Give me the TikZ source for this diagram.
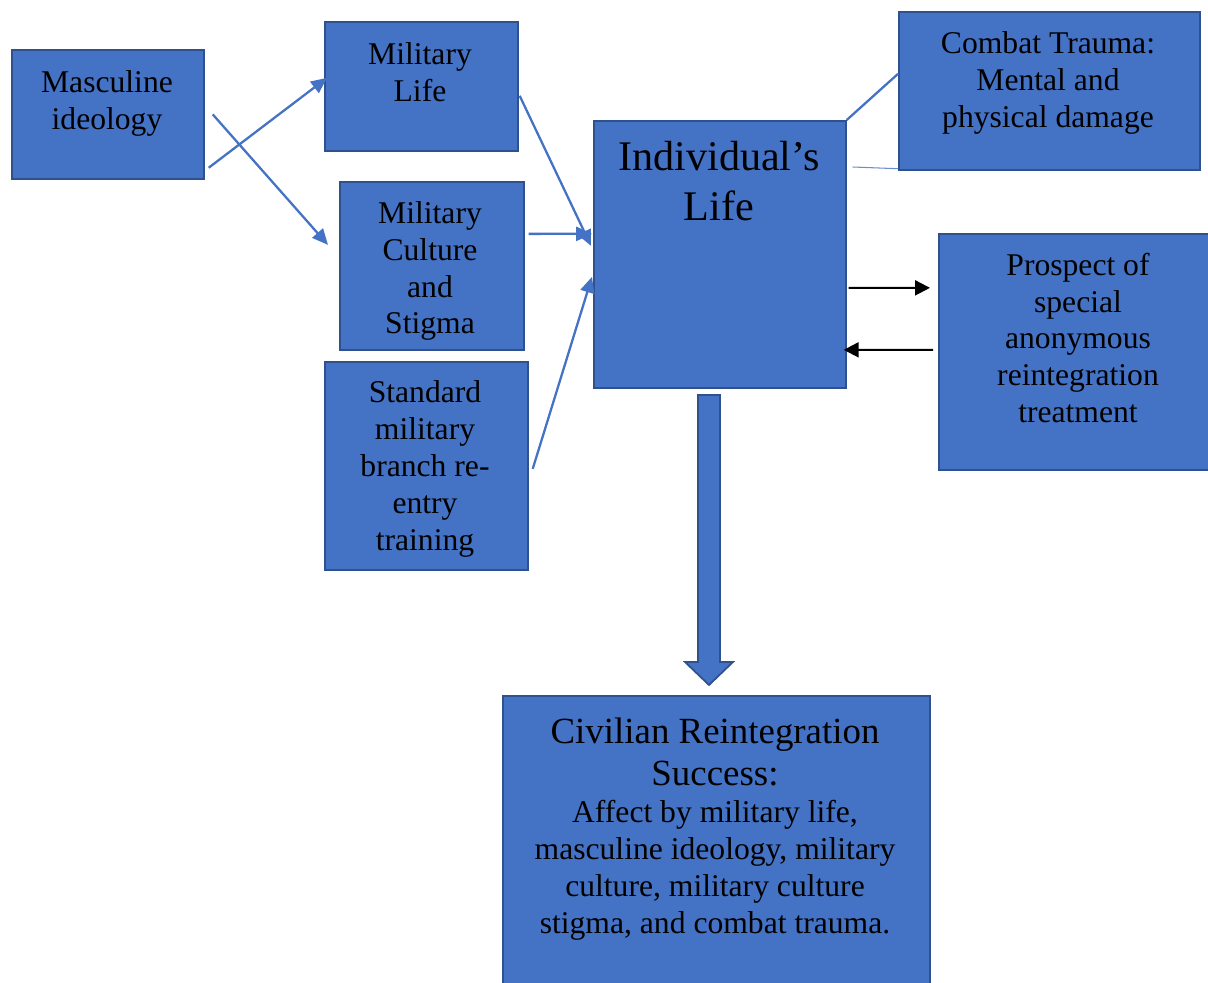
\documentclass[tikz,border=0pt]{standalone}
\usepackage{fontspec}
\setmainfont{Liberation Serif}
\usetikzlibrary{arrows.meta}

\definecolor{boxblue}{HTML}{4472C4}
\definecolor{boxedge}{HTML}{2F528F}

\begin{document}
\begin{tikzpicture}[
  x=0.02cm,
  y=-0.02cm,
  box/.style={draw=boxedge, line width=1pt, fill=boxblue, anchor=north west, inner sep=0pt},
  txt/.style={align=center, inner sep=0pt, font=\fontsize{18}{21}\selectfont},
  conn/.style={draw=boxblue, line width=1.3pt, -{Triangle[length=9pt,width=8pt]}},
  back/.style={draw=black, line width=1.2pt, -{Triangle[length=8.5pt,width=8.5pt]}}
]
  \useasboundingbox (0,0) rectangle (1208,983);

  % boxes
  \node[box, minimum width=3.84cm, minimum height=2.58cm] (masc) at (11,49) {};
  \node[box, minimum width=3.86cm, minimum height=2.58cm] (mlife) at (324,21) {};
  \node[box, minimum width=3.68cm, minimum height=3.36cm] (mcult) at (339,181) {};
  \node[box, minimum width=4.06cm, minimum height=4.16cm] (std) at (324,361) {};
  \node[box, minimum width=5.04cm, minimum height=5.34cm] (ind) at (593,120) {};
  \node[box, minimum width=6.02cm, minimum height=3.16cm] (combat) at (898,11) {};
  \node[box, minimum width=5.48cm, minimum height=4.72cm] (prosp) at (938,233) {};
  \node[box, minimum width=8.54cm, minimum height=5.90cm] (civ) at (502,695) {};

  % texts
  \node[txt] (masct) at (107,103) {Masculine\\ideology};
  \node[txt] (mlifet) at (420,72) {Military\\Life};
  \node[txt] (mcultt) at (430,271) {Military\\Culture\\and\\Stigma};
  \node[txt] (stdt) at (425,469) {Standard\\military\\branch re-\\entry\\training};
  \node[txt, font=\fontsize{24}{28.5}\selectfont] (indt) at (719,181) {Individual’s\\Life};
  \node[txt] (combatt) at (1048,83) {Combat Trauma:\\Mental and\\physical damage};
  \node[txt] (prospt) at (1078,338) {Prospect of\\special\\anonymous\\reintegration\\treatment};
  \node[txt, font=\fontsize{21}{24}\selectfont] (civtop) at (715,752) {Civilian Reintegration\\Success:};
  \node[txt] (civt) at (715,870) {Affect by military life,\\masculine ideology, military\\culture, military culture\\stigma, and combat trauma.};

  % connectors
  \draw[conn] ([shift={(4,-12)}]masc.south east) -- ([shift={(3,-8.5)}]mlife.west);
  \draw[conn] ([shift={(8,0)}]masc.east) -- ([shift={(-11,-21)}]mcult.west);
  \draw[conn] ([shift={(1,9.5)}]mlife.east) -- ([shift={(-2,-8.5)}]ind.west);
  \draw[conn] ([shift={(4,-32)}]mcult.east) -- ([shift={(-1,-20.5)}]ind.west);
  \draw[conn] ([shift={(4,3)}]std.east) -- ([shift={(-1,22.5)}]ind.west);
  \draw[boxblue, line width=1.3pt] (ind.north east) -- ([shift={(0,-17)}]combat.west);
  \draw[boxblue!80, line width=0.6pt] ([shift={(6,47)}]ind.north east) -- ([shift={(0,-2)}]combat.south west);
  \draw[back] ([shift={(2,33.5)}]ind.east) -- ([shift={(-8,-64)}]prosp.west);
  \draw[back] ([shift={(-5,-2)}]prosp.west) -- ([shift={(-3,95.5)}]ind.east);

  % block arrow down
  \draw[draw=boxedge, line width=1pt, fill=boxblue]
    (698,395) -- (720,395) -- (720,662) -- (733,662) -- (709,685)
    -- (685,662) -- (698,662) -- cycle;
\end{tikzpicture}
\end{document}
